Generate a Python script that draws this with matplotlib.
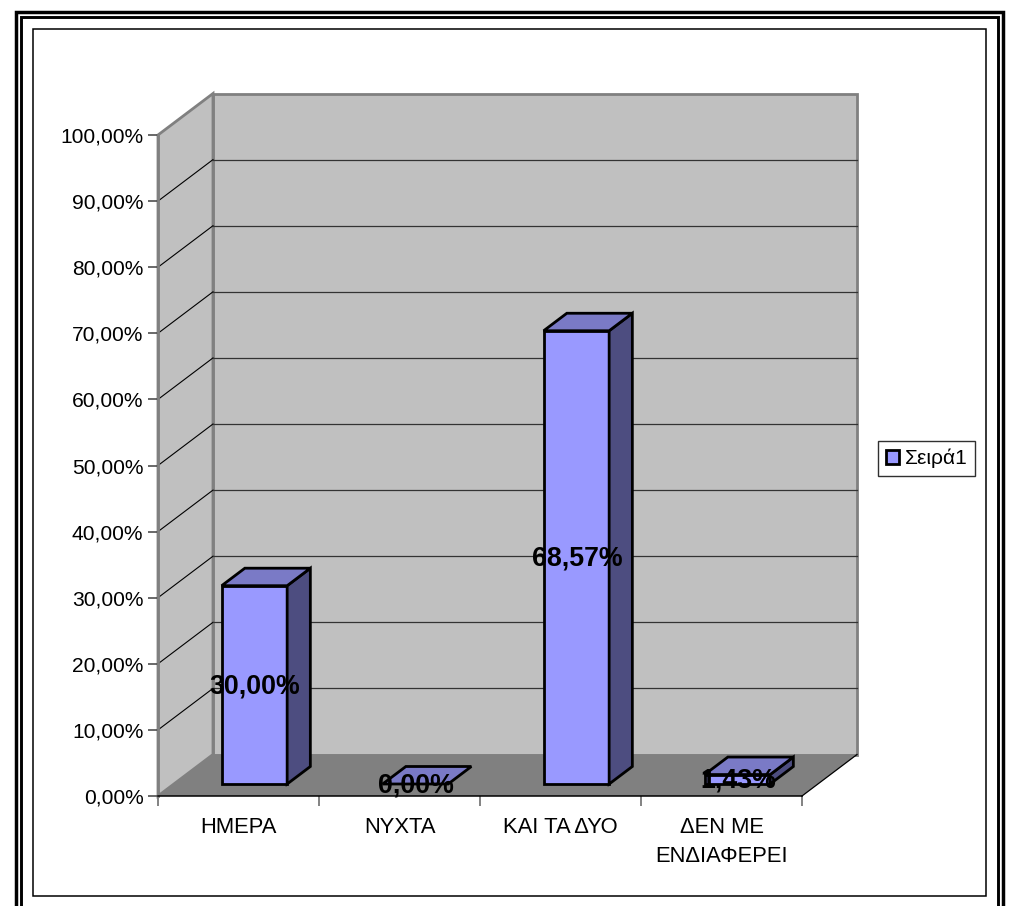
"""Pseudo-3D column chart in the old Excel look, drawn on a flat axes with oblique depth."""
import matplotlib

matplotlib.use("Agg")
import matplotlib.pyplot as plt
from matplotlib.lines import Line2D
from matplotlib.patches import Patch, Polygon, Rectangle

W, H = 1011, 906

categories = ["ΗΜΕΡΑ", "ΝΥΧΤΑ", "ΚΑΙ ΤΑ ΔΥΟ", "ΔΕΝ ΜΕ\nΕΝΔΙΑΦΕΡΕΙ"]
values = [30.00, 0.00, 68.57, 1.43]
value_labels = ["30,00%", "0,00%", "68,57%", "1,43%"]
y_ticks = [0, 10, 20, 30, 40, 50, 60, 70, 80, 90, 100]
y_tick_labels = ["0,00%", "10,00%", "20,00%", "30,00%", "40,00%", "50,00%",
                 "60,00%", "70,00%", "80,00%", "90,00%", "100,00%"]
series_name = "Σειρά1"

# front plane of the plot in pixels, and the oblique shift of the full depth
LEFT, RIGHT, BOTTOM, TOP = 158, 802, 796, 135
DEPTH_X = 55 / ((RIGHT - LEFT) / len(categories))
DEPTH_Y = 41.5 / ((BOTTOM - TOP) / 100)
BAR_WIDTH = 65.5 / ((RIGHT - LEFT) / len(categories))
BAR_NEAR, BAR_FAR = 12 / 41.5, 29.5 / 41.5

WALL, FLOOR, EDGE = "#C0C0C0", "#808080", "#808080"
FRONT, TOPFACE, SIDE = "#9999FF", "#7A7AC6", "#4D4D80"

plt.rcParams["font.family"] = ["Liberation Sans", "DejaVu Sans"]

fig = plt.figure(figsize=(W / 100, H / 100), dpi=100)
ax = fig.add_axes([LEFT / W, 1 - BOTTOM / H, (RIGHT - LEFT) / W, (BOTTOM - TOP) / H])
ax.set_xlim(0, len(categories))
ax.set_ylim(0, 100)
ax.patch.set_visible(False)


def proj(x, y, d=0.0):
    return (x + d * DEPTH_X, y + d * DEPTH_Y)


def poly(points, z, **kw):
    ax.add_patch(Polygon(points, closed=True, clip_on=False, zorder=z, **kw))


n = len(categories)
# walls and floor
poly([proj(0, 0, 1), proj(n, 0, 1), proj(n, 100, 1), proj(0, 100, 1)], 1,
     facecolor=WALL, edgecolor=EDGE, lw=2)
poly([proj(0, 0), proj(0, 0, 1), proj(0, 100, 1), proj(0, 100)], 1,
     facecolor=WALL, edgecolor=EDGE, lw=2)
poly([proj(0, 0), proj(0, 0, 1), proj(n, 0, 1), proj(n, 0)], 2,
     facecolor=FLOOR, edgecolor="none")
ax.plot(*zip(proj(n, 0), proj(n, 0, 1)), color="black", lw=0.9, zorder=3, clip_on=False)

# gridlines: black along the side wall, dark grey on the back wall
for t in y_ticks[1:-1]:
    ax.plot(*zip(proj(0, t), proj(0, t, 1)), color="black", lw=0.8, zorder=2, clip_on=False)
    ax.plot(*zip(proj(0, t, 1), proj(n, t, 1)), color="#333333", lw=0.9, zorder=2, clip_on=False)

# bars
for i, (v, lab) in enumerate(zip(values, value_labels)):
    x0 = i + 0.5 + BAR_NEAR * DEPTH_X - BAR_WIDTH / 2
    x1 = x0 + BAR_WIDTH
    d = BAR_FAR - BAR_NEAR
    base = BAR_NEAR * DEPTH_Y
    style = dict(edgecolor="black", lw=2, joinstyle="miter")
    if v > 0:
        poly([(x0, base), (x1, base), (x1, base + v), (x0, base + v)], 5, facecolor=FRONT, **style)
        poly([(x1, base), proj(x1, base, d), proj(x1, base + v, d), (x1, base + v)], 5,
             facecolor=SIDE, **style)
    poly([(x0, base + v), (x1, base + v), proj(x1, base + v, d), proj(x0, base + v, d)], 5,
         facecolor=TOPFACE, **style)
    ax.annotate(lab, ((x0 + x1) / 2, base + v / 2), xytext=(0.5, -1), textcoords="offset points",
                ha="center", va="center", fontsize=19.3, fontweight="bold", color="black",
                zorder=8, annotation_clip=False)

# axes
for side in ("top", "right"):
    ax.spines[side].set_visible(False)
ax.spines["left"].set_color(EDGE)
ax.spines["left"].set_linewidth(2)
ax.spines["bottom"].set_color("black")
ax.spines["bottom"].set_linewidth(1.1)
ax.spines["left"].set_zorder(4)
ax.spines["bottom"].set_zorder(4)
ax.set_yticks(y_ticks, y_tick_labels)
ax.set_xticks(range(n + 1), [""] * (n + 1))
ax.set_xticks([i + 0.5 for i in range(n)], categories, minor=True)
ax.tick_params(axis="y", length=7.5, width=1.1, color="#404040", labelsize=15.1, pad=3)
ax.tick_params(axis="x", which="major", length=7.5, width=1.1, color="#606060")
ax.tick_params(axis="x", which="minor", length=0, labelsize=15.8, pad=15)
for lbl in ax.get_xticklabels(minor=True):
    lbl.set_linespacing(1.5)

leg = fig.legend(handles=[Patch(facecolor=FRONT, edgecolor="black", lw=2, label=series_name)],
                 loc="center left", bbox_to_anchor=(878 / W, 1 - 458.5 / H), fontsize=15.1,
                 handlelength=0.66, handleheight=0.66, handletextpad=0.26, borderaxespad=0,
                 borderpad=0.36, fancybox=False, framealpha=1, edgecolor="#303030")
leg.get_frame().set_linewidth(1.0)


# page frame, in pixels: the rules run off the bottom of the picture
def frame(x0, y0, x1, lw):
    xs = [x0 / W, x0 / W, x1 / W, x1 / W]
    ys = [0, 1 - y0 / H, 1 - y0 / H, 0]
    fig.add_artist(Line2D(xs, ys, color="black", lw=lw, solid_joinstyle="miter"))


frame(16, 11.5, 1003, 2.5)
frame(21, 16.5, 997.5, 2.1)
fig.add_artist(Rectangle((33 / W, 1 - 896 / H), (986 - 33) / W, (896 - 29) / H, fill=False,
                         edgecolor="black", lw=1.1, transform=fig.transFigure))

fig.savefig("out.png", dpi=100)
